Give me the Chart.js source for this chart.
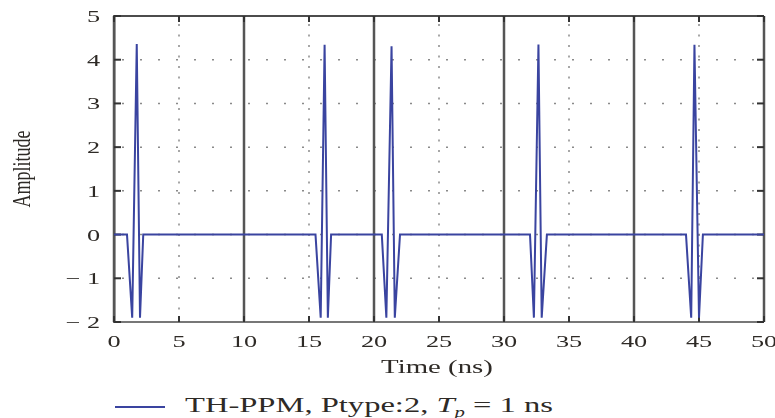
<!DOCTYPE html>
<html lang="en">
<head>
<meta charset="UTF-8">
<title>TH-PPM pulse train</title>
<script src="https://cdn.jsdelivr.net/npm/chart.js@4/dist/chart.umd.min.js"></script>
<style>
    body { margin: 0; background: #fff; font-family: "Liberation Serif", "DejaVu Serif", serif; }
    .wrap { position: relative; width: 775px; height: 418px; overflow: hidden; }
    #plot { position: absolute; left: 0; top: 0; }
    .legend { position: absolute; left: 115px; top: 392px; display: flex; align-items: center; color: #2e2a26; }
    .legend .swatch { width: 50px; height: 0; border-top: 2px solid #3a44a0; margin-right: 20px; }
    .legend .label { font-size: 22px; white-space: nowrap; transform: scaleX(1.48); transform-origin: left center; }
    .legend sub { font-size: 14px; }
</style>
</head>
<body>
<div class="wrap">
    <canvas id="plot" width="775" height="385"></canvas>
    <div class="legend"><span class="swatch"></span><span class="label">TH-PPM, Ptype:2, <i>T</i><sub><i>p</i></sub> = 1 ns</span></div>
</div>
<script>
// pulse train sample points (time in ns, amplitude)
const times = [0, 1.0, 1.4, 1.75, 2.0, 2.25,
               15.5, 15.9, 16.2, 16.45, 16.7,
               20.6, 20.95, 21.35, 21.6, 22.0,
               32.0, 32.3, 32.65, 32.9, 33.3,
               44.0, 44.4, 44.65, 45.0, 45.3, 50];
const amplitude = [0, 0, -1.9, 4.36, -1.9, 0,
                   0, -1.9, 4.34, -1.9, 0,
                   0, -1.9, 4.31, -1.9, 0,
                   0, -1.9, 4.35, -1.9, 0,
                   0, -1.9, 4.34, -1.9, 0, 0];
const xTicks = [0, 5, 10, 15, 20, 25, 30, 35, 40, 45, 50];
const yTicks = [-2, -1, 0, 1, 2, 3, 4, 5];

const points = times.map((t, i) => ({ x: t, y: amplitude[i] }));

const textColor = '#2e2a26';
const serif = '"Liberation Serif", serif';

// text drawn wide, like the figure's stretched lettering
function wideText(ctx, text, x, y, sx, align) {
    ctx.save();
    ctx.translate(x, y);
    ctx.scale(sx, 1);
    ctx.textAlign = align;
    ctx.fillText(text, 0, 0);
    ctx.restore();
}

// grid, frame and inward tick marks
const framePlugin = {
    id: 'frame',
    beforeDatasetsDraw(chart) {
        const { ctx, chartArea: a, scales: { x, y } } = chart;
        ctx.save();
        ctx.lineCap = 'butt';

        // dotted horizontal grid
        ctx.strokeStyle = '#8a8a8a';
        ctx.lineWidth = 1.5;
        ctx.setLineDash([2, 16]);
        yTicks.slice(1, -1).forEach(v => {
            const py = y.getPixelForValue(v);
            ctx.beginPath(); ctx.moveTo(a.left + 8, py); ctx.lineTo(a.right, py); ctx.stroke();
        });
        // dotted verticals at odd multiples of 5
        ctx.setLineDash([2, 8.5]);
        xTicks.filter(v => v % 10 === 5).forEach(v => {
            const px = x.getPixelForValue(v);
            ctx.beginPath(); ctx.moveTo(px, a.top + 8); ctx.lineTo(px, a.bottom); ctx.stroke();
        });
        ctx.setLineDash([]);

        // solid verticals every 10
        ctx.strokeStyle = '#555';
        ctx.lineWidth = 2.5;
        xTicks.filter(v => v % 10 === 0).forEach(v => {
            const px = x.getPixelForValue(v);
            ctx.beginPath(); ctx.moveTo(px, a.top); ctx.lineTo(px, a.bottom); ctx.stroke();
        });

        // bottom and top border
        ctx.strokeStyle = '#777';
        ctx.lineWidth = 2;
        ctx.beginPath(); ctx.moveTo(a.left, a.bottom); ctx.lineTo(a.right, a.bottom); ctx.stroke();
        ctx.strokeStyle = '#111';
        ctx.lineWidth = 1.5;
        ctx.beginPath(); ctx.moveTo(a.left, a.top); ctx.lineTo(a.right, a.top); ctx.stroke();

        // tick marks pointing inward
        ctx.strokeStyle = '#333';
        ctx.lineWidth = 2;
        yTicks.forEach(v => {
            const py = y.getPixelForValue(v);
            ctx.beginPath(); ctx.moveTo(a.left, py); ctx.lineTo(a.left + 7, py); ctx.stroke();
            ctx.beginPath(); ctx.moveTo(a.right, py); ctx.lineTo(a.right - 7, py); ctx.stroke();
        });
        xTicks.forEach(v => {
            const px = x.getPixelForValue(v);
            ctx.beginPath(); ctx.moveTo(px, a.bottom); ctx.lineTo(px, a.bottom - 6); ctx.stroke();
            ctx.beginPath(); ctx.moveTo(px, a.top); ctx.lineTo(px, a.top + 6); ctx.stroke();
        });
        ctx.restore();
    },
    afterDraw(chart) {
        const { ctx, chartArea: a, scales: { x, y } } = chart;
        ctx.save();
        ctx.fillStyle = textColor;
        ctx.textBaseline = 'alphabetic';

        // tick labels
        ctx.font = '17.5px ' + serif;
        xTicks.forEach(v => {
            wideText(ctx, String(v), x.getPixelForValue(v), a.bottom + 25, 1.5, 'center');
        });
        yTicks.forEach(v => {
            const label = v < 0 ? '\u2212 ' + Math.abs(v) : String(v);
            wideText(ctx, label, a.left - 14, y.getPixelForValue(v) + 6, 1.5, 'right');
        });

        // axis titles
        ctx.font = '18px ' + serif;
        wideText(ctx, 'Time (ns)', (a.left + a.right) / 2 - 2, a.bottom + 51, 1.6, 'center');

        ctx.save();
        ctx.translate(30, (a.top + a.bottom) / 2);
        ctx.scale(1.4, 1);
        ctx.rotate(-Math.PI / 2);
        ctx.textAlign = 'center';
        ctx.fillText('Amplitude', 0, 0);
        ctx.restore();

        ctx.restore();
    }
};

new Chart(document.getElementById('plot'), {
    type: 'line',
    data: {
        datasets: [{
            label: 'TH-PPM, Ptype:2, Tp = 1 ns',
            data: points,
            borderColor: '#3a44a0',
            borderWidth: 2,
            pointRadius: 0,
            tension: 0
        }]
    },
    options: {
        responsive: false,
        animation: false,
        layout: { padding: { top: 16, right: 11, left: 0, bottom: 0 } },
        plugins: { legend: { display: false }, tooltip: { enabled: false } },
        scales: {
            x: {
                type: 'linear',
                min: 0,
                max: 50,
                afterBuildTicks: s => { s.ticks = xTicks.map(v => ({ value: v })); },
                afterFit: s => { s.height = 63; },
                grid: { display: false },
                border: { display: false },
                ticks: { display: false }
            },
            y: {
                min: -2,
                max: 5,
                afterBuildTicks: s => { s.ticks = yTicks.map(v => ({ value: v })); },
                afterFit: s => { s.width = 114; },
                grid: { display: false },
                border: { color: '#666', width: 2.5 },
                ticks: { display: false }
            }
        }
    },
    plugins: [framePlugin]
});
</script>
</body>
</html>
